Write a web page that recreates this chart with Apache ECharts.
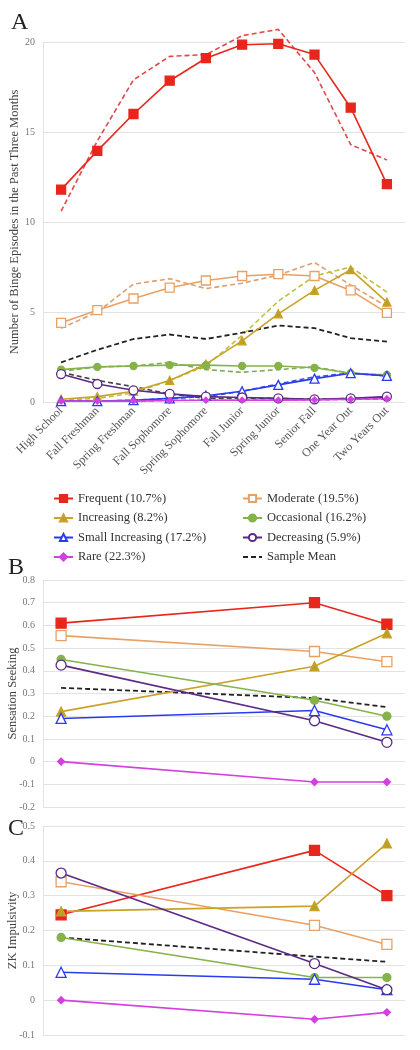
<!DOCTYPE html>
<html><head><meta charset="utf-8">
<script src="https://cdn.jsdelivr.net/npm/echarts@6/dist/echarts.min.js"></script>
<style>html,body{margin:0;padding:0;background:#fff}#c{width:420px;height:1050px}</style>
</head><body><div id="c"></div>
<script>
const categories = ['High School','Fall Freshman','Spring Freshman','Fall Sophomore','Spring Sophomore','Fall Junior','Spring Junior','Senior Fall','One Year Out','Two Years Out'];
const classNames = ['Frequent (10.7%)','Moderate (19.5%)','Increasing (8.2%)','Occasional (16.2%)','Small Increasing (17.2%)','Decreasing (5.9%)','Rare (22.3%)'];
const meanName = 'Sample Mean';
// Panel A: estimated (solid) trajectories
const frequentEst   = [11.8, 13.95, 16.0, 17.85, 19.1, 19.85, 19.9, 19.3, 16.35, 12.1];
const moderateEst   = [4.4, 5.1, 5.75, 6.35, 6.75, 7.0, 7.1, 7.0, 6.2, 4.95];
const increasingEst = [0.15, 0.3, 0.6, 1.2, 2.1, 3.4, 4.9, 6.2, 7.35, 5.55];
const occasionalEst = [1.8, 1.95, 2.0, 2.05, 2.05, 2.0, 2.0, 1.9, 1.6, 1.5];
const smallIncEst   = [0.05, 0.05, 0.1, 0.2, 0.35, 0.6, 0.95, 1.3, 1.6, 1.45];
const decreasingEst = [1.55, 1.0, 0.65, 0.45, 0.3, 0.25, 0.2, 0.15, 0.2, 0.3];
const rareEst       = [0.05, 0.05, 0.05, 0.08, 0.1, 0.1, 0.1, 0.12, 0.15, 0.18];
// Panel A: observed (dashed) trajectories
const frequentObs   = [10.6, 14.5, 17.9, 19.2, 19.3, 20.35, 20.7, 18.3, 14.3, 13.45];
const moderateObs   = [4.1, 5.0, 6.55, 6.85, 6.3, 6.6, 7.05, 7.75, 6.5, 5.3];
const increasingObs = [0.1, 0.2, 0.5, 1.2, 2.0, 3.7, 5.6, 7.0, 7.5, 6.1];
const occasionalObs = [1.7, 1.95, 2.0, 2.2, 1.8, 1.65, 1.8, 1.95, 1.6, 1.5];
const smallIncObs   = [0.05, 0.05, 0.1, 0.2, 0.3, 0.6, 1.0, 1.4, 1.6, 1.45];
const decreasingObs = [1.65, 1.2, 0.85, 0.45, 0.2, 0.2, 0.2, 0.15, 0.2, 0.25];
const rareObs       = [0.05, 0.05, 0.05, 0.1, 0.1, 0.1, 0.12, 0.12, 0.15, 0.15];
const sampleMeanA   = [2.2, 2.9, 3.5, 3.75, 3.5, 3.85, 4.25, 4.1, 3.55, 3.35];
// Panels B & C timepoints
const bcTimepoints = ['High School','Senior Fall','Two Years Out'];
const ssFrequent   = [0.61, 0.70, 0.605];
const ssModerate   = [0.555, 0.485, 0.44];
const ssIncreasing = [0.22, 0.42, 0.565];
const ssOccasional = [0.45, 0.27, 0.20];
const ssSmallInc   = [0.19, 0.225, 0.14];
const ssDecreasing = [0.425, 0.18, 0.085];
const ssRare       = [0, -0.09, -0.09];
const ssMean       = [0.325, 0.28, 0.24];
const zkFrequent   = [0.245, 0.43, 0.30];
const zkModerate   = [0.34, 0.215, 0.16];
const zkIncreasing = [0.255, 0.27, 0.45];
const zkOccasional = [0.18, 0.065, 0.065];
const zkSmallInc   = [0.08, 0.06, 0.03];
const zkDecreasing = [0.365, 0.105, 0.03];
const zkRare       = [0, -0.055, -0.035];
const zkMean       = [0.18, 0.125, 0.11];
const yTicksA = [0, 20, 5];
const yTicksB = [-0.2, 0.8, 0.1];
const yTicksC = [-0.1, 0.5, 0.1];

const styles = [
  {color:'#e8261c', symbol:'rect', size:9, fill:'#e8261c', dash:'#e24848'},
  {color:'#e9a063', symbol:'rect', size:9, fill:'#fff', dash:'#dca070'},
  {color:'#c9a227', symbol:'triangle', size:8, fill:'#b9a02a', dash:'#bcc03c'},
  {color:'#86b24a', symbol:'circle', size:7, fill:'#86b24a', dash:'#7aae55'},
  {color:'#2a3af0', symbol:'triangle', size:9, fill:'#fff', dash:'#3a55e0'},
  {color:'#5b2a86', symbol:'circle', size:9, fill:'#fff', dash:'#444'},
  {color:'#d43fe0', symbol:'diamond', size:6, fill:'#d43fe0', dash:'#d050e0'}
];
const estA = [frequentEst, moderateEst, increasingEst, occasionalEst, smallIncEst, decreasingEst, rareEst];
const obsA = [frequentObs, moderateObs, increasingObs, occasionalObs, smallIncObs, decreasingObs, rareObs];
const ssAll = [ssFrequent, ssModerate, ssIncreasing, ssOccasional, ssSmallInc, ssDecreasing, ssRare];
const zkAll = [zkFrequent, zkModerate, zkIncreasing, zkOccasional, zkSmallInc, zkDecreasing, zkRare];

const serif = 'Liberation Serif';
const series = [];
obsA.forEach((d,i)=>{
  series.push({name:'obs'+i, type:'line', xAxisIndex:0, yAxisIndex:0, data:d, symbol:'none', clip:false,
    lineStyle:{color:styles[i].dash, width:1.6, type:[5,3]}, z:1, silent:true});
});
series.push({name:meanName, type:'line', xAxisIndex:0, yAxisIndex:0, data:sampleMeanA, symbol:'none', clip:false,
  itemStyle:{color:'#222'}, lineStyle:{color:'#222', width:1.8, type:[5,3]}, z:2});
estA.forEach((d,i)=>{
  const s = styles[i];
  series.push({name:classNames[i], type:'line', xAxisIndex:0, yAxisIndex:0, data:d, clip:false,
    symbol:s.symbol, symbolSize:s.size, showAllSymbol:true,
    itemStyle:{color:s.fill, borderColor:s.color, borderWidth:1.3},
    lineStyle:{color:s.color, width:1.6}, z:3});
});
function bcSeries(arrs, mean, idx){
  series.push({name:meanName, type:'line', xAxisIndex:idx, yAxisIndex:idx,
    data:bcTimepoints.map((t,k)=>[t, mean[k]]), symbol:'none',
    itemStyle:{color:'#222'}, lineStyle:{color:'#222', width:1.8, type:[5,3]}, z:2});
  arrs.forEach((d,i)=>{
    const s = styles[i];
    series.push({name:classNames[i], type:'line', xAxisIndex:idx, yAxisIndex:idx,
      data:bcTimepoints.map((t,k)=>[t, d[k]]),
      symbol:s.symbol, symbolSize:s.size+1, itemStyle:{color:s.fill, borderColor:s.color, borderWidth:1.3},
      lineStyle:{color:s.color, width:1.6}, z:3});
  });
}
bcSeries(ssAll, ssMean, 1);
bcSeries(zkAll, zkMean, 2);

const yLab = {fontFamily:serif, fontSize:10, color:'#777'};
const split = {show:true, lineStyle:{color:'#e3e3e3', width:1}};
const yAxisLine = {show:true, lineStyle:{color:'#e3e3e3'}};
function yAx(idx, t, name, gap){
  return {type:'value', gridIndex:idx, min:t[0], max:t[1], interval:t[2],
    axisLine:yAxisLine, axisTick:{show:false}, splitLine:split,
    axisLabel:Object.assign({margin:8, formatter:v=>String(Math.round(v*10)/10)}, yLab),
    name:name, nameLocation:'middle', nameGap:gap, nameMoveOverlap:false,
    nameTextStyle:{fontFamily:serif, fontSize:12.5, color:'#444'}};
}
const legendText = {fontFamily:serif, fontSize:12.5, color:'#333'};
const option = {
  animation:false,
  title:[
    {text:'A', left:6, top:6, textStyle:{fontFamily:serif, fontSize:24, fontWeight:'normal', color:'#222'}},
    {text:'B', left:3, top:551, textStyle:{fontFamily:serif, fontSize:24, fontWeight:'normal', color:'#222'}},
    {text:'C', left:3, top:812, textStyle:{fontFamily:serif, fontSize:24, fontWeight:'normal', color:'#222'}}
  ],
  legend:[
    {data:[classNames[0], classNames[2], classNames[4], classNames[6]], orient:'vertical', left:48, top:487,
      itemWidth:19, itemHeight:9, itemGap:6.5, textStyle:legendText, selectedMode:false},
    {data:[classNames[1], classNames[3], classNames[5], {name:meanName, itemStyle:{opacity:0}}], orient:'vertical', left:237, top:487,
      itemWidth:19, itemHeight:9, itemGap:6.5, textStyle:legendText, selectedMode:false}
  ],
  grid:[
    {left:43, width:362, top:42, height:360, outerBoundsMode:'none', containLabel:false},
    {left:43, width:362, top:580, height:227, outerBoundsMode:'none', containLabel:false},
    {left:43, width:362, top:826, height:209, outerBoundsMode:'none', containLabel:false}
  ],
  xAxis:[
    {type:'category', gridIndex:0, data:categories, boundaryGap:true,
      axisLine:{show:false}, axisTick:{show:false}, splitLine:{show:false},
      axisLabel:{rotate:45, interval:0, fontFamily:serif, fontSize:12, color:'#555', margin:7}},
    {type:'category', gridIndex:1, data:categories, boundaryGap:true, show:false},
    {type:'category', gridIndex:2, data:categories, boundaryGap:true, show:false}
  ],
  yAxis:[
    yAx(0, yTicksA, 'Number of Binge Episodes in the Past Three Months', 22),
    yAx(1, yTicksB, 'Sensation Seeking', 24),
    yAx(2, yTicksC, 'ZK Impulsivity', 24)
  ],
  series:series
};
const chart = echarts.init(document.getElementById('c'), null, {renderer:'canvas'});
chart.setOption(option);
</script></body></html>
